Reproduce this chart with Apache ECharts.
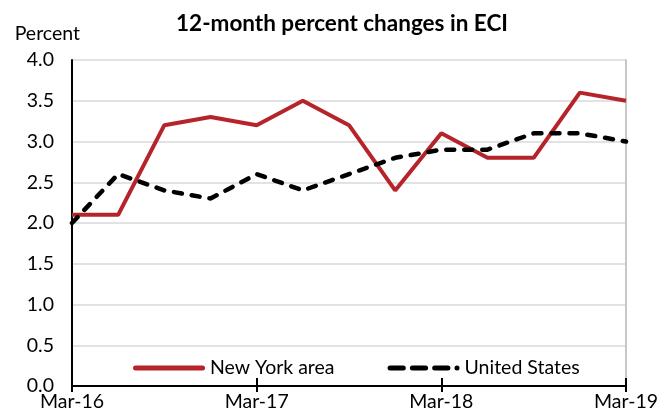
<!DOCTYPE html>
<html>
<head>
<meta charset="utf-8">
<script src="https://cdn.jsdelivr.net/npm/echarts@6/dist/echarts.min.js"></script>
<style>html,body{margin:0;padding:0;background:#fff}#c{width:671px;height:419px}</style>
</head>
<body>
<div id="c"></div>
<script>
var categories = ['Mar-16','Jun-16','Sep-16','Dec-16','Mar-17','Jun-17','Sep-17','Dec-17','Mar-18','Jun-18','Sep-18','Dec-18','Mar-19'];
var newYork = [2.1, 2.1, 3.2, 3.3, 3.2, 3.5, 3.2, 2.4, 3.1, 2.8, 2.8, 3.6, 3.5];
var unitedStates = [2.0, 2.6, 2.4, 2.3, 2.6, 2.4, 2.6, 2.8, 2.9, 2.9, 3.1, 3.1, 3.0];

var FONT = 'Lato';
var FS = 19.5;
function pill(x0, x1) {
  return 'M' + (x0 + 2.5) + ',0H' + (x1 - 2.5) + 'A2.5,2.5 0 0 1 ' + (x1 - 2.5) + ',5H' + (x0 + 2.5) + 'A2.5,2.5 0 0 1 ' + (x0 + 2.5) + ',0Z';
}
var nyIcon = 'path://' + pill(0, 72);
var usIcon = 'path://' + pill(0, 18) + pill(22, 40) + pill(44, 62) + pill(66, 71);
var chart = echarts.init(document.getElementById('c'));
var every4 = function (i) { return i % 4 === 0; };
chart.setOption({
  animation: false,
  textStyle: { fontFamily: FONT },
  title: {
    text: '12-month percent changes in ECI',
    left: 337, textAlign: 'center', top: 7,
    textStyle: { fontFamily: FONT, fontSize: 22.5, fontWeight: 'bold', color: '#000' }
  },
  grid: { left: 72, right: 45, top: 60, bottom: 33 },
  legend: {
    bottom: 36, left: 128, itemGap: 53, itemWidth: 72, itemHeight: 5,
    symbolKeepAspect: false,
    textStyle: { fontFamily: FONT, fontSize: FS, color: '#000', padding: [0, 0, 0, 0] },
    data: [
      { name: 'New York area', icon: nyIcon },
      { name: 'United States', icon: usIcon }
    ]
  },
  xAxis: [{
    type: 'category', data: categories, boundaryGap: false,
    axisLine: { lineStyle: { color: '#000', width: 2 } },
    axisTick: { inside: true, length: 8, interval: every4, lineStyle: { color: '#000', width: 2 } },
    axisLabel: { interval: every4, color: '#000', fontSize: FS, fontFamily: FONT, margin: 6 },
    splitLine: { show: false }
  }, {
    type: 'category', data: categories, boundaryGap: false, position: 'bottom',
    axisLine: { show: false },
    axisTick: { inside: false, length: 6, interval: every4, lineStyle: { color: '#000', width: 2 } },
    axisLabel: { show: false }
  }],
  yAxis: [{
    type: 'value', min: 0, max: 4, interval: 0.5,
    name: 'Percent', nameLocation: 'end', nameGap: 16,
    nameTextStyle: { fontFamily: FONT, fontSize: FS, color: '#000', align: 'right', padding: [0, -8, 0, 0] },
    axisLine: { show: true, lineStyle: { color: '#000', width: 2 } },
    axisTick: { show: false },
    axisLabel: { color: '#000', fontSize: FS, fontFamily: FONT, margin: 18, formatter: function (v) { return v.toFixed(1); } },
    splitLine: { lineStyle: { color: '#d9d9d9', width: 1.5 } }
  }, {
    type: 'value', min: 0, max: 4, interval: 0.5, position: 'right',
    axisLine: { show: true, lineStyle: { color: '#c8c8c8', width: 2 } },
    axisTick: { show: false }, axisLabel: { show: false }, splitLine: { show: false }
  }],
  series: [{
    name: 'New York area', type: 'line', data: newYork, showSymbol: false, symbol: 'none',
    lineStyle: { color: '#B5242A', width: 4 }, itemStyle: { color: '#B5242A' }, z: 3
  }, {
    name: 'United States', type: 'line', data: unitedStates, showSymbol: false, symbol: 'none',
    lineStyle: { color: '#000', width: 4.5, type: [8, 10], cap: 'round' }, itemStyle: { color: '#000' }, z: 4
  }]
});
</script>
</body>
</html>
